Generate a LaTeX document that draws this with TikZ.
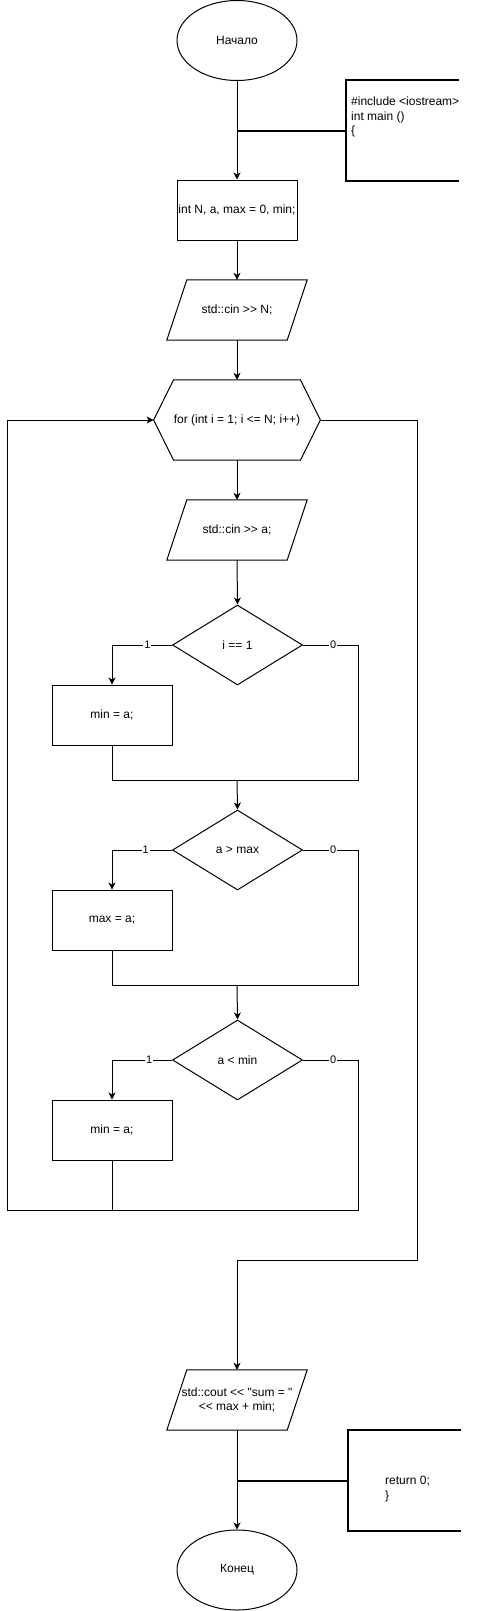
\documentclass[tikz,border=0pt]{standalone}
\usepackage{fontspec}
\setmainfont{Liberation Sans}
\newfontfamily\dfont{Liberation Sans}[Ligatures=NoCommon]
\usetikzlibrary{shapes.geometric,arrows.meta}
\newcommand\drawpara[1]{\draw[shapeline] ([xshift=10pt]#1.north west) -- ([xshift=10pt]#1.north east) -- ([xshift=-10pt]#1.south east) -- ([xshift=-10pt]#1.south west) -- cycle;}
\begin{document}
\begin{tikzpicture}[x=1pt,y=-1pt,
  every node/.style={font=\dfont\fontsize{12}{14.5}\selectfont, text=black},
  shapeline/.style={draw=black, line width=1pt, line join=miter},
  procbox/.style={shapeline, rectangle, minimum width=120pt, minimum height=60pt, inner sep=0pt},
  termbox/.style={shapeline, ellipse, minimum width=120pt, minimum height=80pt, inner sep=0pt},
  iobase/.style={rectangle, minimum width=120pt, minimum height=60pt, inner sep=0pt},
  loopbase/.style={rectangle, minimum width=120pt, minimum height=80pt, inner sep=0pt},
  decbox/.style={shapeline, diamond, minimum width=130pt, minimum height=80pt, inner sep=0pt},
  flow/.style={draw=black, line width=1pt},
  arrow/.style={flow, -{Stealth[length=7pt,width=7pt,inset=2pt]}},
  bracket/.style={draw=black, line width=2pt},
  lbl/.style={fill=white, inner sep=1pt, font=\dfont\fontsize{11}{12}\selectfont},
  note/.style={anchor=north west, inner sep=0pt, align=left},
  annbox/.style={rectangle, minimum width=113pt, minimum height=101pt, inner sep=0pt}
]
\useasboundingbox (0,0) rectangle (488,1611);

% nodes
\node[termbox] (start) at (237,40.5) {Начало};
\node[procbox] (init) at (237,210) {int N, a, max = 0, min;};
\node[iobase] (inN) at (237,310) {std::cin >> N;};
\drawpara{inN}
\node[loopbase] (loop) at (237,420) {for (int i = 1; i <= N; i++)};
\coordinate (loopL) at ([xshift=-20pt]loop.west);
\coordinate (loopR) at ([xshift=20pt]loop.east);
\draw[shapeline] (loop.north west) -- (loop.north east) -- (loopR) -- (loop.south east) -- (loop.south west) -- (loopL) -- cycle;
\node[iobase] (inA) at (237,530) {std::cin >> a;};
\drawpara{inA}
\node[decbox] (d1) at (237.5,645) {i == 1};
\node[procbox] (r1) at (112,715) {min = a;};
\node[decbox] (d2) at (237.5,850) {a > max};
\node[procbox] (r2) at (112,920) {max = a;};
\node[decbox] (d3) at (237.5,1060) {a < min};
\node[procbox] (r3) at (112,1130) {min = a;};
\node[iobase, align=center] (out) at (237,1400) {std::cout << "sum = "\\<< max + min;};
\drawpara{out}
\node[termbox] (end) at (237,1570) {Конец};

% annotations
\node[annbox] (ann1) at (402.5,130.5) {};
\draw[bracket] (ann1.north east) -- (ann1.north west) -- (ann1.south west) -- (ann1.south east);
\node[note] (ann1t) at (351,97) {\#include <iostream>\\int main ()\\\{};
\draw[bracket] (ann1.west) -- (ann1.west -| start.south);

\node[annbox] (ann2) at (404.5,1480.5) {};
\draw[bracket] (ann2.north east) -- (ann2.north west) -- (ann2.south west) -- (ann2.south east);
\node[note] (ann2t) at (385,1476) {return 0;\\\}};
\draw[bracket] (ann2.west) -- (ann2.west -| out.south);

% coordinates
\coordinate (m1) at (237,780);
\coordinate (m2) at (237,985);
\coordinate (lb) at (7,1210);
\coordinate (ex) at (417,1260);

% main flow
\draw[arrow] (start.south) -- (init.north);
\draw[arrow] (init.south) -- (inN.north);
\draw[arrow] (inN.south) -- (loop.north);
\draw[arrow] (loop.south) -- (inA.north);
\draw[arrow] (inA.south) -- (d1.north);

% decision 1
\draw[arrow] (d1.west) -- node[lbl,pos=0.41]{1} (r1.north |- d1.west) -- (r1.north);
\draw[flow] (d1.east) -- node[lbl,pos=0.55]{0} ++(55,0) |- (m1);
\draw[flow] (r1.south) |- (m1);
\draw[arrow] (m1) -- (d2.north);

% decision 2
\draw[arrow] (d2.west) -- node[lbl,pos=0.44]{1} (r2.north |- d2.west) -- (r2.north);
\draw[flow] (d2.east) -- node[lbl,pos=0.55]{0} ++(55,0) |- (m2);
\draw[flow] (r2.south) |- (m2);
\draw[arrow] (m2) -- (d3.north);

% decision 3 and loop back
\draw[arrow] (d3.west) -- node[lbl,pos=0.38]{1} (r3.north |- d3.west) -- (r3.north);
\draw[arrow] (d3.east) -- node[lbl,pos=0.55]{0} ++(55,0) |- (lb) |- (loopL);
\draw[flow] (r3.south) -- (r3.south |- lb);

% loop exit
\draw[arrow] (loopR) -| (ex) -| (out.north);
\draw[arrow] (out.south) -- (end.north);
\end{tikzpicture}
\end{document}
